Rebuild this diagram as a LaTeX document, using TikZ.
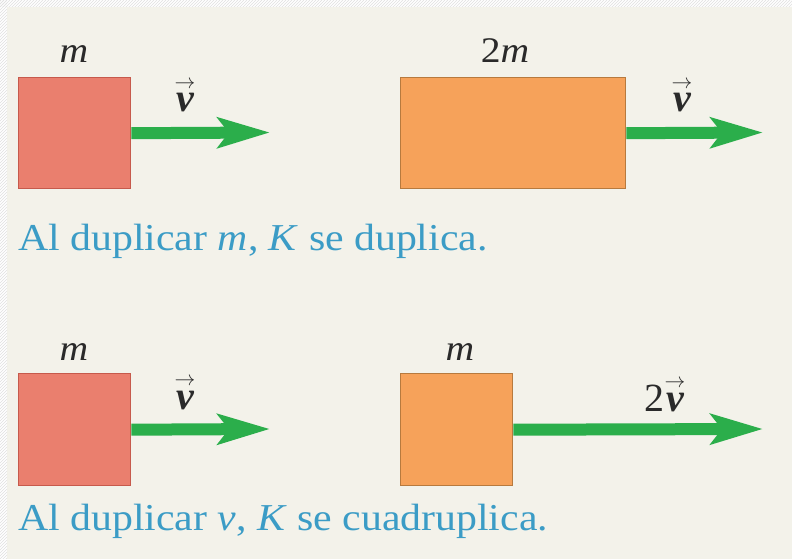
\documentclass[tikz,border=0pt]{standalone}
\usepackage{amsmath}
\usepackage{fontspec}
\setmainfont{Liberation Serif}
\newfontfamily\capfont[FakeStretch=1.1]{Liberation Serif}
\newfontfamily\labfont[FakeStretch=1.1]{Liberation Serif}
\usetikzlibrary{arrows.meta,patterns}
\definecolor{bgc}{HTML}{F3F2EA}
\definecolor{redf}{HTML}{EA7F6E}
\definecolor{redd}{HTML}{C65A4C}
\definecolor{orf}{HTML}{F6A25A}
\definecolor{ord}{HTML}{B77A3E}
\definecolor{grn}{HTML}{2BAE4B}
\definecolor{txtb}{HTML}{3B9CC6}
\definecolor{lab}{HTML}{2A2A2A}
\newcommand{\vecv}{\ensuremath{\overset{\scriptscriptstyle\rightarrow}{\text{\bfseries\itshape v}}}}
\tikzset{
  massbox/.style={draw, line width=1.4pt, inner sep=0pt, anchor=north west},
  redbox/.style={massbox, fill=redf, draw=redd},
  orbox/.style={massbox, fill=orf, draw=ord},
  velarrow/.style={draw=grn, line width=12pt, -{Stealth[length=52pt,width=30pt,inset=11pt]}},
  masslabel/.style={font=\labfont\fontsize{36}{38}\selectfont, text=lab, anchor=base, inner sep=0pt},
  vlabel/.style={font=\fontsize{40}{42}\selectfont, text=lab, anchor=base, inner sep=0pt},
  caption/.style={font=\capfont\fontsize{38}{40}\selectfont, text=txtb, anchor=base west, inner sep=0pt}
}
\begin{document}
\begin{tikzpicture}[x=1pt,y=-1pt]
\fill[bgc] (0,0) rectangle (792,559);
\fill[white] (0,0) rectangle (792,7);
\fill[white] (0,0) rectangle (7,559);
\fill[pattern=north east lines, pattern color=black!12] (0,0) rectangle (792,7);
\fill[pattern=north east lines, pattern color=black!12] (0,0) rectangle (7,559);
\useasboundingbox (0,0) rectangle (792,559);
% top row
\node[redbox, minimum width=112pt, minimum height=111pt] (b1) at (18,77) {};
\node[masslabel] (l1) at (74,63) {\itshape m};
\coordinate (t1) at (270,132.5);
\draw[velarrow] (b1.east) -- (t1);
\node[vlabel] (v1) at (185,112) {\vecv};
\node[orbox, minimum width=225pt, minimum height=111pt] (b2) at (400,77) {};
\node[masslabel] (l2) at (505,63) {2\itshape m};
\coordinate (t2) at (763,132.5);
\draw[velarrow] (b2.east) -- (t2);
\node[vlabel] (v2) at (682,112) {\vecv};
\node[caption] (c1) at (18,250) {Al duplicar \textit{m}, \textit{K} se duplica.};
% bottom row
\node[redbox, minimum width=112pt, minimum height=112pt] (b3) at (18,373) {};
\node[masslabel] (l3) at (74,360) {\itshape m};
\coordinate (t3) at (270,429);
\draw[velarrow] (b3.east) -- (t3);
\node[vlabel] (v3) at (185,409) {\vecv};
\node[orbox, minimum width=112pt, minimum height=112pt] (b4) at (400,373) {};
\node[masslabel] (l4) at (460,360) {\itshape m};
\coordinate (t4) at (763,429);
\draw[velarrow] (b4.east) -- (t4);
\node[vlabel] (v4) at (665,411) {2\vecv};
\node[caption] (c2) at (18,530) {Al duplicar \textit{v}, \textit{K} se cuadruplica.};
\end{tikzpicture}
\end{document}
